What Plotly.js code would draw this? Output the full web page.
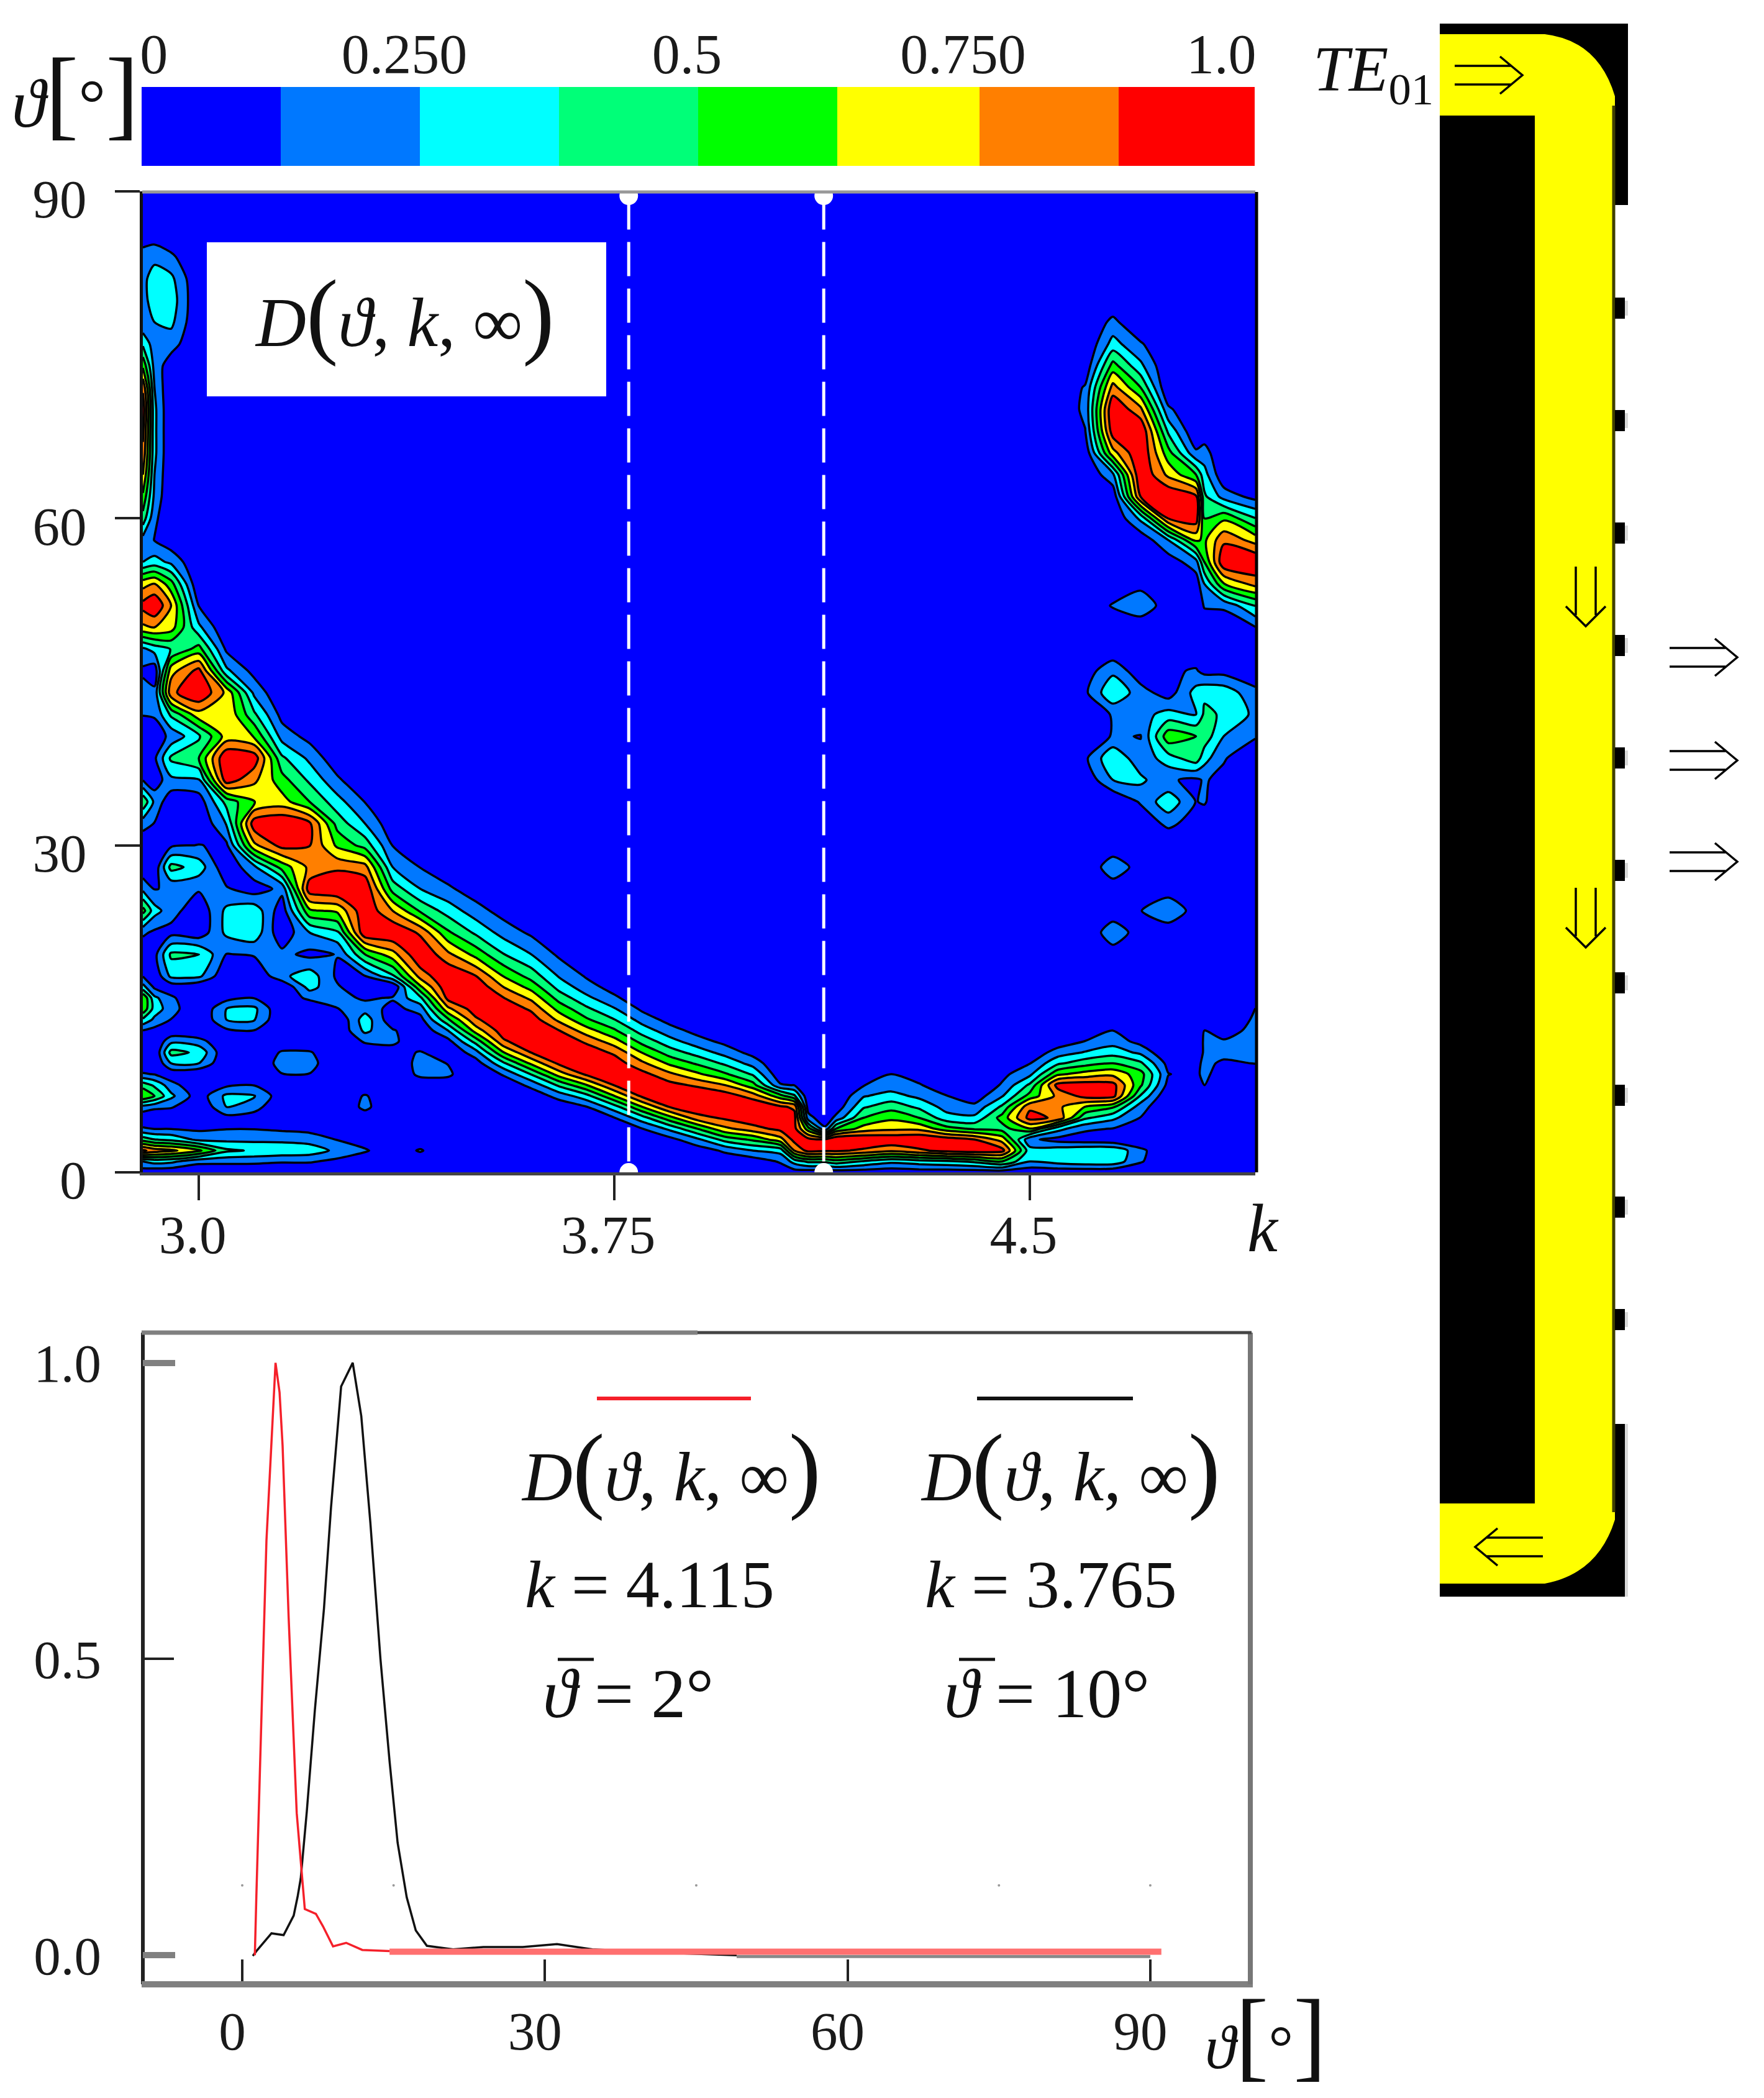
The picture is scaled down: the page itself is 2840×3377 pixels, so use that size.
<!DOCTYPE html>
<html><head><meta charset="utf-8">
<script src="https://cdn.plot.ly/plotly-3.0.1.min.js"></script>
<style>html,body{margin:0;padding:0;background:#fff}</style></head>
<body><div id="chart" style="width:2840px;height:3377px"></div>
<script>
const kValues=[2.899,2.92,2.95,3.0,3.05,3.1,3.15,3.2,3.25,3.3,3.35,3.4,3.45,3.5,3.55,3.6,3.65,3.7,3.75,3.8,3.85,3.9,3.95,4.0,4.05,4.075,4.1,4.13,4.15,4.2,4.25,4.3,4.35,4.4,4.45,4.5,4.55,4.6,4.65,4.7,4.75,4.8,4.815,4.85,4.907];
const thetaValues=[0,1,2,3,4,5,6,7,8,9,10,11,12,13,14,15,16,17,18,20,22,24,26,28,30,32,34,36,38,40,42,44,46,48,50,52,54,56,58,60,62,64,66,68,70,72,74,76,78,80,82,84,86,90];
// one entry per k, in kValues order: {theta: D in percent}; angles not listed read as 0
const percentByK=[
{0:5,1:25,2:90,3:45,4:14,5:3,6:20,7:62,8:45,9:14,10:2,13:12,14:35,15:60,16:62,17:30,18:12,20:2,22:15,24:55,26:22,28:3,30:2,32:18,34:48,36:12,38:3,40:3,42:13,44:18,46:10,48:22,50:72,52:92,54:70,56:25,58:20,60:45,62:60,64:75,66:85,68:90,70:95,72:85,74:60,76:35,78:15,80:20,82:22,84:18,86:5},
{0:3,1:30,2:82,3:38,4:12,6:16,7:50,8:35,9:12,13:8,14:22,15:32,16:28,17:10,18:2,20:8,22:10,24:30,26:12,28:3,32:12,34:22,36:4,38:10,40:5,42:14,44:16,46:4,48:30,50:75,52:100,54:75,56:30,58:12,60:15,62:22,64:25,66:28,68:28,70:28,72:25,74:20,76:18,78:25,80:32,82:30,84:22,86:5},
{0:2,1:28,2:78,3:35,4:12,6:14,7:28,8:18,9:3,10:25,11:42,12:22,13:2,14:12,15:18,16:15,17:4,18:28,20:40,22:8,24:18,26:14,28:42,30:10,34:3,36:22,38:40,40:16,42:40,44:84,46:70,48:38,50:68,52:75,54:55,56:22,58:4,60:3,74:5,76:18,78:28,80:32,82:28,84:15,86:2},
{0:2,1:16,2:65,3:22,4:10,7:5,10:25,11:35,12:18,18:28,20:38,22:4,24:3,26:14,28:32,30:13,34:5,36:24,38:50,40:35,42:70,44:100,46:92,48:55,50:28,52:12},
{0:1,1:16,2:40,3:22,4:12,5:8,6:25,7:28,8:10,13:10,14:25,15:25,16:8,18:1,20:12,22:28,24:28,26:14,28:2,30:10,32:26,34:42,36:95,38:100,40:68,42:74,44:72,46:28,48:10},
{1:16,2:36,3:22,4:12,5:6,6:18,7:26,8:12,12:2,13:12,14:26,15:28,16:12,20:14,22:33,24:33,26:6,28:22,30:72,32:95,34:62,36:78,38:95,40:62,42:40,44:22,46:8},
{1:14,2:34,3:22,4:10,7:4,9:12,10:18,11:14,12:3,16:5,18:22,20:16,22:3,24:5,26:16,28:55,30:92,32:100,34:68,36:55,38:40,40:20,42:8},
{1:14,2:32,3:20,4:8,9:12,10:18,11:14,15:3,16:15,17:30,18:32,20:9,22:25,24:60,26:95,28:78,30:88,32:90,34:50,36:35,38:22,40:8},
{1:9,2:22,3:12,4:3,15:12,16:18,17:14,18:10,20:13,22:35,24:65,26:100,28:85,30:60,32:45,34:30,36:15,38:3},
{1:4,2:14,3:6,5:5,6:16,7:14,11:3,12:14,13:28,14:32,15:20,16:10,17:3,18:12,20:50,22:98,24:98,26:98,28:80,30:45,32:25,34:12},
{2:4,11:5,12:16,13:14,14:3,15:8,16:14,18:35,20:70,22:100,24:75,26:45,28:25,30:12,32:3},
{1:3,2:14,3:3,8:3,9:16,10:18,11:14,13:2,14:8,15:18,16:35,17:60,18:80,20:100,22:85,24:48,26:25,28:12,30:3},
{8:5,9:15,10:12,12:8,13:25,14:48,15:72,16:92,17:98,18:100,20:78,22:52,24:32,26:15,28:3},
{10:6,11:20,12:42,13:68,14:85,15:95,16:100,17:98,18:88,20:58,22:35,24:18,26:5},
{8:3,9:14,10:35,11:62,12:85,13:95,14:100,15:98,16:88,17:75,18:62,20:38,22:20,24:7},
{7:4,8:16,9:38,10:65,11:88,12:98,13:100,14:95,15:85,16:72,17:58,18:45,20:25,22:10},
{6:4,7:17,8:40,9:68,10:90,11:100,12:98,13:88,14:72,15:58,16:45,17:33,18:24,20:10},
{5:2,6:12,7:33,8:62,9:90,10:100,11:96,12:85,13:68,14:52,15:40,16:28,17:18,18:11,20:2},
{4:2,5:12,6:32,7:62,8:88,9:100,10:95,11:85,12:68,13:52,14:38,15:26,16:15,17:7,18:2},
{3:2,4:12,5:32,6:62,7:90,8:100,9:92,10:78,11:62,12:46,13:32,14:20,15:10,16:3},
{2:1,3:8,4:28,5:58,6:88,7:100,8:92,9:78,10:60,11:44,12:30,13:18,14:8,15:2},
{2:5,3:22,4:50,5:82,6:98,7:100,8:85,9:65,10:48,11:32,12:18,13:8,14:2},
{1:3,2:15,3:42,4:72,5:90,6:100,7:95,8:75,9:52,10:35,11:20,12:9,13:2},
{1:5,2:25,3:52,4:82,5:98,6:100,7:82,8:55,9:36,10:20,11:8,12:1},
{0:5,1:14,2:30,3:70,4:92,5:98,6:90,7:55,8:14,9:3},
{0:6,1:30,2:75,3:92,4:92,5:92,6:85,7:40,8:12,9:2},
{0:5,1:40,2:92,3:92,4:55,5:18,6:6,7:2},
{0:5,1:40,2:90,3:90,4:15,5:3},
{0:5,1:45,2:90,3:100,4:50,5:16,6:4},
{0:5,1:36,2:85,3:100,4:68,5:50,6:36,7:24,8:12,9:3},
{0:4,1:28,2:78,3:98,4:72,5:60,6:45,7:30,8:18,9:13,10:2},
{0:5,1:32,2:85,3:100,4:72,5:50,6:35,7:22,8:14,9:5},
{0:5,1:35,2:92,3:95,4:55,5:30,6:20,7:13,8:2},
{0:5,1:40,2:95,3:88,4:48,5:28,6:16,7:5},
{0:5,1:50,2:92,3:70,4:45,5:55,6:40,7:24,8:14,9:9},
{0:3,1:25,2:30,3:15,4:62,5:92,6:85,7:55,8:40,9:22,10:12,11:3},
{0:3,1:30,2:32,3:8,4:30,5:85,6:78,7:78,8:92,9:60,10:35,11:18,12:5},
{0:3,1:33,2:35,3:5,4:15,5:40,6:62,7:92,8:95,9:68,10:45,11:26,12:13,13:3,36:3,38:10,44:10,46:6,66:3,68:12,70:16,72:14,74:3},
{0:2,1:33,2:35,3:3,4:12,5:28,6:52,7:92,8:92,9:72,10:50,11:32,12:20,13:13,14:2,20:5,22:22,24:3,26:4,28:22,30:2,36:25,38:36,40:14,42:14,44:36,46:22,48:2,52:14,62:3,64:22,66:70,68:95,70:100,72:80,74:55,76:30,78:16,80:2},
{0:1,1:14,2:16,4:3,5:12,6:18,7:36,8:52,9:55,10:40,11:22,12:8,13:1,22:5,24:12,26:3,28:6,32:3,34:14,36:28,38:16,40:12,42:20,44:18,46:4,50:3,52:22,54:8,58:3,60:28,62:88,64:100,66:100,68:100,70:78,72:50,74:28,76:14},
{8:8,9:13,10:8,22:3,24:24,26:5,32:16,34:34,36:14,38:32,40:58,42:30,44:6,46:10,48:6,52:5,56:5,58:25,60:88,62:100,64:72,66:55,68:35,70:15},
{8:3,9:8,10:8,24:6,32:6,34:12,36:10,38:45,40:50,42:25,44:30,46:14,48:2,54:5,56:20,58:65,60:95,62:90,64:50,66:15},
{8:13,9:18,10:16,11:15,12:15,13:13,14:3,32:3,34:14,36:14,38:30,40:45,42:40,44:35,46:8,50:2,52:14,54:25,56:50,58:60,60:50,62:40,64:30,66:18,68:4},
{10:10,11:17,12:15,13:2,36:8,38:14,40:25,42:36,44:33,46:8,50:3,52:15,54:62,56:98,58:85,60:60,62:20,64:2},
{10:13,11:18,12:25,13:20,14:15,15:13,16:3,40:14,42:22,44:16,46:3,50:12,52:38,54:80,56:100,58:70,60:38,62:8}
];
const bandColors=['#0000ff','#0078ff','#00ffff','#00ff78','#00ff00','#ffff00','#ff7f00','#ff0000'];
const bandEdges=[0,0.125,0.25,0.375,0.5,0.625,0.753,0.878,1];
const bandTickVals=[0.011,0.236,0.49,0.738,0.97];
const bandTickText=['0','0.250','0.5','0.750','1.0'];
const dashedK=[3.776,4.128];
const redTheta=[1.25,1.4,2.4,3.3,3.7,4.0,4.6,5.4,6.2,7.3,8.0,9.0,10.3,11.9,14.6];
const redD=[0,0.10,0.70,1.0,0.95,0.86,0.57,0.24,0.078,0.07,0.049,0.015,0.021,0.009,0.007];
const redTailTheta=[14.6,40,91.1];
const redTailD=[0.006,0.006,0.006];
const blackTheta=[1.05,1.4,2.9,4.1,5.1,5.5,5.8,6.4,7.2,8.1,8.8,9.8,10.95,11.8,12.7,13.7,14.6,15.4,16.3,17.2,18.3,20.9,23.9,27.8,31.2,34.7,40.7,49];
const blackD=[-0.001,0.007,0.037,0.034,0.067,0.10,0.13,0.243,0.414,0.585,0.756,0.96,1.0,0.91,0.73,0.5,0.328,0.19,0.098,0.042,0.016,0.01,0.014,0.014,0.019,0.01,0.005,0];
const grayTailTheta=[49,90];
const grayTailD=[-0.002,-0.002];
const specksTheta=[0,15,45,75,90];
const specksD=[0.118,0.118,0.118,0.118,0.118];
const wallNotchY=[496,677,858,1039,1220,1401,1582,1763,1943,2124];
const rightArrowY=[1058,1224,1387];
const downArrowY=[960,1477];

const W=2840,H=3377,SERIF='"Liberation Serif",serif';
const zMatrix=thetaValues.map(t=>percentByK.map(c=>c[t]||0));
const scale=bandColors.map((c,i)=>[i/(bandColors.length-1),c]);

const traces=[
{type:'contour',x:kValues,y:thetaValues,z:zMatrix,xaxis:'x',yaxis:'y',zmin:0,zmax:100,autocontour:false,
 contours:{start:12.5,end:87.5,size:12.5,coloring:'fill',showlines:true},colorscale:scale,showscale:false,
 line:{color:'#000',width:3.5,smoothing:0.7},hoverinfo:'skip'},
{type:'scatter',mode:'lines',x:[dashedK[0],dashedK[0]],y:[1,89],xaxis:'x',yaxis:'y',line:{color:'#fff',width:5,dash:'55px,20px'},hoverinfo:'skip'},
{type:'scatter',mode:'lines',x:[dashedK[1],dashedK[1]],y:[1,89],xaxis:'x',yaxis:'y',line:{color:'#fff',width:5,dash:'55px,20px'},hoverinfo:'skip'},
{type:'scatter',mode:'markers',x:[dashedK[0],dashedK[1],dashedK[0],dashedK[1]],y:[89.6,89.6,0,0],xaxis:'x',yaxis:'y',cliponaxis:false,marker:{color:'#fff',size:30},hoverinfo:'skip'},
{type:'heatmap',x:bandEdges,y:[0,1],z:[[0,1,2,3,4,5,6,7]],xaxis:'x3',yaxis:'y3',zmin:0,zmax:7,colorscale:scale,showscale:false,hoverinfo:'skip'},
{type:'scatter',mode:'markers',x:specksTheta,y:specksD,xaxis:'x2',yaxis:'y2',marker:{color:'#999',size:4},hoverinfo:'skip'},
{type:'scatter',mode:'lines',x:grayTailTheta,y:grayTailD,xaxis:'x2',yaxis:'y2',line:{color:'#888',width:5},hoverinfo:'skip'},
{type:'scatter',mode:'lines',x:blackTheta,y:blackD,xaxis:'x2',yaxis:'y2',line:{color:'#111',width:3.5},hoverinfo:'skip'},
{type:'scatter',mode:'lines',x:redTailTheta,y:redTailD,xaxis:'x2',yaxis:'y2',line:{color:'#ff7070',width:10},hoverinfo:'skip'},
{type:'scatter',mode:'lines',x:redTheta,y:redD,xaxis:'x2',yaxis:'y2',line:{color:'#f5202a',width:3.5},hoverinfo:'skip'},
{type:'scatter',mode:'none',x:[0,W],y:[0,H],xaxis:'x4',yaxis:'y4',hoverinfo:'skip'}
];

const tickFont={family:SERIF,size:87,color:'#1a1a1a'};
const layout={
width:W,height:H,margin:{l:0,r:0,t:0,b:0},paper_bgcolor:'#fff',plot_bgcolor:'rgba(0,0,0,0)',showlegend:false,
xaxis:{domain:[230/W,2021/W],range:[2.899,4.907],anchor:'y',tickmode:'array',tickvals:[3.0,3.75,4.5],ticktext:['3.0','3.75','4.5'],
 ticks:'outside',ticklen:40,tickwidth:4,tickcolor:'#222',showgrid:false,zeroline:false,showline:true,linecolor:'#444',linewidth:5,
 tickfont:tickFont,ticklabelstandoff:-19,ticklabelshift:-10},
yaxis:{domain:[1-1887/H,1-308/H],range:[0,90],anchor:'x',tickmode:'array',tickvals:[0,30,60,90],ticktext:['0','30','60','90'],
 ticks:'outside',ticklen:40,tickwidth:4,tickcolor:'#222',showgrid:false,zeroline:false,showline:true,linecolor:'#111',linewidth:5,
 tickfont:tickFont,ticklabelstandoff:28,ticklabelshift:12},
xaxis2:{domain:[230/W,2015/W],range:[-9.85,100.04],anchor:'y2',tickmode:'array',tickvals:[0,30,60,90],ticktext:['0','30','60','90'],
 ticks:'inside',ticklen:40,tickwidth:4,tickcolor:'#222',showgrid:false,zeroline:false,showline:false,
 tickfont:tickFont,ticklabelstandoff:17,ticklabelshift:-16},
yaxis2:{domain:[1-3194/H,1-2145/H],range:[-0.049,1.051],anchor:'x2',tickmode:'array',tickvals:[0,0.5,1],ticktext:['0.0','0.5','1.0'],
 ticks:'inside',ticklen:50,tickwidth:4,tickcolor:'#222',showgrid:false,zeroline:false,showline:false,
 tickfont:tickFont,ticklabelstandoff:66,ticklabelshift:0},
xaxis3:{domain:[228/W,2020/W],range:[0,1],anchor:'y3',side:'top',tickmode:'array',tickvals:bandTickVals,ticktext:bandTickText,ticks:'',
 showgrid:false,zeroline:false,showline:false,tickfont:{family:SERIF,size:90,color:'#1a1a1a'},ticklabelstandoff:3},
yaxis3:{domain:[1-267/H,1-140/H],range:[0,1],anchor:'x3',visible:false},
xaxis4:{domain:[0,1],range:[0,W],anchor:'y4',visible:false},
yaxis4:{domain:[0,1],range:[H,0],anchor:'x4',visible:false},
shapes:[],annotations:[]
};
const rect=(x0,y0,x1,y1,c)=>layout.shapes.push({type:'rect',xref:'x4',yref:'y4',x0,y0,x1,y1,fillcolor:c,line:{width:0},layer:'above'});
const seg=(x0,y0,x1,y1,c,w)=>layout.shapes.push({type:'line',xref:'x4',yref:'y4',x0,y0,x1,y1,line:{color:c,width:w},layer:'above'});
const path=(d,w)=>layout.shapes.push({type:'path',xref:'x4',yref:'y4',path:d,line:{color:'#000',width:w},fillcolor:'rgba(0,0,0,0)',layer:'above'});
const label=(text,x,y,size,xanchor)=>layout.annotations.push({text,x,y,xref:'x4',yref:'y4',showarrow:false,xanchor:xanchor||'center',yanchor:'middle',align:'left',font:{family:SERIF,size,color:'#111'}});
const big=(s,px)=>'<span style="font-size:'+px+'px">'+s+'</span>';
const Dterm='<i>D</i>'+big('(',155)+'<i>ϑ</i>, <i>k</i>, ∞'+big(')',155);
const arrowH=(x,y,d)=>{ // d=+1 right, -1 left; x is the tail
 path('M'+x+','+(y-15)+' L'+(x+d*90)+','+(y-15)+' M'+x+','+(y+15)+' L'+(x+d*90)+','+(y+15)+' M'+(x+d*73)+','+(y-30)+' L'+(x+d*109)+','+y+' L'+(x+d*73)+','+(y+30),3.5);
};
const arrowDown=(x,y)=>{
 path('M'+(x-16)+','+(y-48)+' L'+(x-16)+','+(y+30)+' M'+(x+16)+','+(y-48)+' L'+(x+16)+','+(y+30)+' M'+(x-32)+','+(y+16)+' L'+x+','+(y+48)+' L'+(x+32)+','+(y+16),3.5);
};

// frame pieces and panel of the map
seg(229,309,2021,309,'#999',5);
seg(2023,309,2023,1887,'#000',5);
rect(333,390,976,638,'#fff');
label(Dterm,651,505,112);
label('<i>ϑ</i>'+big('[',160)+'°'+big(']',160),121,150,110);
label('<i>k</i>',2033,1977,110);
// frame of the lower plot
seg(230,2145,230,3194,'#222',6);
seg(228,3194,2017,3194,'#808080',10);
seg(2013,2145,2013,3194,'#777',8);
seg(228,2145,1123,2145,'#808080',7);
seg(1123,2145,2015,2145,'#444',5);
seg(230,2194,282,2194,'#808080',10);
seg(230,3147,282,3147,'#808080',10);
// legend of the lower plot
seg(961,2251,1209,2251,'#f5202a',6);
seg(1573,2251,1824,2251,'#111',6);
label(Dterm,1080,2363,112);
label(Dterm,1723,2363,112);
label('<i>k</i> = 4.115',843,2550,108,'left');
label('<i>k</i> = 3.765',1487,2550,108,'left');
label('<i>ϑ</i> = 2°',872,2726,112,'left');
label('<i>ϑ</i> = 10°',1518,2726,112,'left');
seg(898,2671,956,2671,'#111',5);
seg(1544,2671,1602,2671,'#111',5);
label('<i>ϑ</i>'+big('[',160)+'°'+big(']',160),2038,3275,100);
// waveguide diagram
rect(2318,38,2621,330,'#000');
rect(2318,2292,2616,2570,'#000');
rect(2616,2292,2621,2570,'#d8d8d8');
layout.shapes.push({type:'path',xref:'x4',yref:'y4',layer:'above',fillcolor:'#ffff00',line:{width:0},
 path:'M2318,55 L2487,55 Q2573,65 2600,155 L2600,2446 Q2573,2533 2487,2549 L2318,2549 Z'});
rect(2318,186,2471,2420,'#000');
seg(2598,170,2598,2434,'#404000',5);
wallNotchY.forEach(y=>{rect(2600,y-17,2616,y+17,'#000');rect(2616,y-12,2621,y+12,'#d8d8d8');});
label('<i>TE</i><sub>01</sub>',2211,118,104);
arrowH(2342,121,1);
arrowH(2484,2490,-1);
rightArrowY.forEach(y=>arrowH(2688,y,1));
downArrowY.forEach(y=>arrowDown(2553,y));

Plotly.newPlot('chart',traces,layout,{displayModeBar:false,staticPlot:true});
</script></body></html>
